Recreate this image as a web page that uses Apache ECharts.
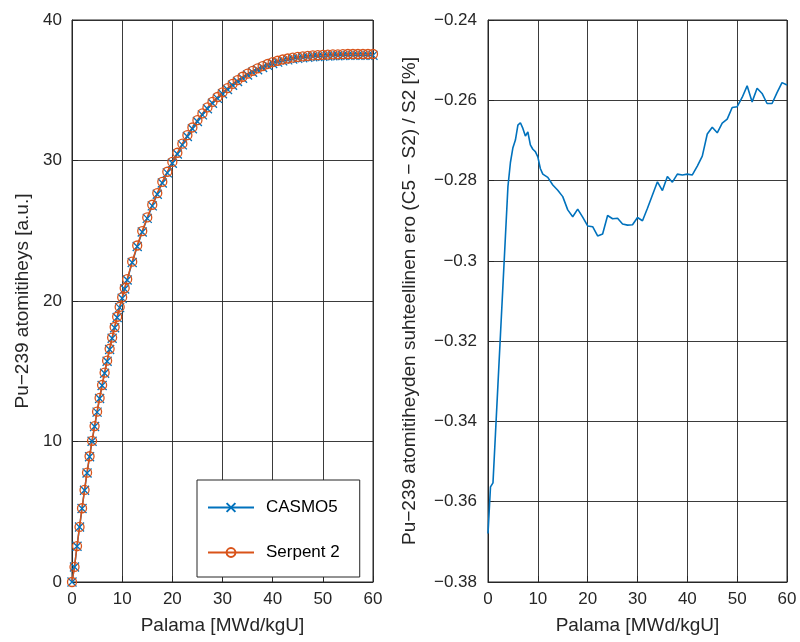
<!DOCTYPE html>
<html>
<head>
<meta charset="utf-8">
<script src="https://cdn.jsdelivr.net/npm/echarts@6/dist/echarts.min.js"></script>
<style>
html,body{margin:0;padding:0;background:#fff;}
#chart{width:800px;height:642px;}
</style>
</head>
<body>
<div id="chart"></div>
<script>
// Burnup points [MWd/kgU]
var burnup = [0,0.5,1,1.5,2,2.5,3,3.5,4,4.5,5,5.5,6,6.5,7,7.5,8,8.5,9,9.5,10,10.5,
  11,12,13,14,15,16,17,18,19,20,
  21,22,23,24,25,26,27,28,29,30,
  31,32,33,34,35,36,37,38,39,40,
  41,42,43,44,45,46,47,48,49,50,
  51,52,53,54,55,56,57,58,59,60];

// Serpent 2 Pu-239 atom density [a.u.]
var serpent = [0,1.07,2.56,3.92,5.25,6.55,7.78,8.95,10.05,11.1,12.12,13.1,14.02,14.9,15.75,16.6,17.4,18.15,18.88,19.58,20.26,20.92,
  21.55,22.8,23.95,24.98,25.95,26.85,27.68,28.48,29.2,29.9,
  30.55,31.2,31.8,32.35,32.87,33.35,33.78,34.17,34.52,34.85,
  35.15,35.45,35.72,35.96,36.18,36.38,36.56,36.72,36.87,37.0,
  37.1,37.19,37.26,37.32,37.37,37.41,37.45,37.48,37.5,37.52,
  37.54,37.55,37.56,37.57,37.58,37.58,37.58,37.58,37.58,37.58];

// CASMO5 Pu-239 atom density [a.u.]
var casmo = [0,1.07,2.55,3.91,5.23,6.53,7.76,8.92,10.02,11.07,12.09,13.06,13.98,14.86,15.71,16.55,17.35,18.10,18.83,19.53,20.20,20.86,
  21.49,22.74,23.88,24.91,25.88,26.77,27.60,28.40,29.12,29.81,
  30.46,31.11,31.71,32.26,32.77,33.25,33.68,34.07,34.42,34.75,
  35.05,35.35,35.62,35.86,36.08,36.28,36.46,36.62,36.77,36.90,
  37.00,37.09,37.16,37.22,37.27,37.31,37.35,37.38,37.40,37.42,
  37.44,37.45,37.46,37.47,37.48,37.48,37.48,37.48,37.48,37.48];

// Relative difference (C5 - S2)/S2 [%]
var relDiff = [-0.3679,-0.3563,-0.3553,-0.3430,-0.3307,-0.3184,-0.3061,-0.2938,-0.2815,-0.2755,-0.2718,-0.2699,-0.2662,-0.2656,-0.2670,-0.2689,-0.2679,-0.2711,-0.2722,-0.2728,-0.2741,-0.2770,
  -0.2784,-0.2792,-0.2811,-0.2824,-0.2840,-0.2873,-0.2890,-0.2871,-0.2891,-0.2913,
  -0.2915,-0.2938,-0.2933,-0.2887,-0.2895,-0.2894,-0.2908,-0.2911,-0.2910,-0.2892,
  -0.2900,-0.2869,-0.2836,-0.2803,-0.2825,-0.2790,-0.2804,-0.2784,-0.2786,-0.2784,
  -0.2786,-0.2764,-0.2739,-0.2684,-0.2667,-0.2681,-0.2657,-0.2647,-0.2618,-0.2616,
  -0.2593,-0.2564,-0.2604,-0.2570,-0.2583,-0.2608,-0.2608,-0.2581,-0.2556,-0.2562];

var seriesNames = ['CASMO5', 'Serpent 2'];
var xName = 'Palama [MWd/kgU]';
var yNameLeft = 'Pu\u2212239 atomitiheys [a.u.]';
var yNameRight = 'Pu\u2212239 atomitiheyden suhteellinen ero (C5 \u2212 S2) / S2 [%]';

function pairs(xs, ys) { return xs.map(function (x, i) { return [x, ys[i]]; }); }

var ink = '#262626';
var blue = '#0072BD';
var orange = '#D95319';

function xAxisCfg(gi) {
  return {
    gridIndex: gi, type: 'value', min: 0, max: 60, interval: 10,
    name: xName, nameLocation: 'middle', nameGap: 34,
    nameTextStyle: { fontSize: 19, color: ink },
    axisLine: { show: true, onZero: false, lineStyle: { color: ink, width: 1 } },
    axisTick: { show: true, inside: true, length: 6, lineStyle: { color: ink } },
    axisLabel: { fontSize: 17, color: ink, margin: 9 },
    splitLine: { show: true, lineStyle: { color: ink, width: 1, opacity: 0.9 } }
  };
}

function fmtNum(v) {
  var s = String(Number(v.toFixed(4)));
  return s.replace('-', '\u2212');
}

var chart = echarts.init(document.getElementById('chart'), null, { renderer: 'canvas' });
chart.setOption({
  animation: false,
  backgroundColor: '#fff',
  textStyle: { fontFamily: 'Liberation Sans, Arial, sans-serif' },
  grid: [
    { left: 72, right: 427, top: 20, bottom: 60, show: true, borderColor: ink, borderWidth: 1, backgroundColor: '#fff' },
    { left: 488, right: 13, top: 20, bottom: 60, show: true, borderColor: ink, borderWidth: 1, backgroundColor: '#fff' }
  ],
  xAxis: [xAxisCfg(0), xAxisCfg(1)],
  yAxis: [
    {
      gridIndex: 0, type: 'value', min: 0, max: 40, interval: 10,
      name: yNameLeft, nameLocation: 'middle', nameGap: 40,
      nameTextStyle: { fontSize: 19, color: ink },
      axisLine: { show: true, lineStyle: { color: ink, width: 1 } },
      axisTick: { show: true, inside: true, length: 6, lineStyle: { color: ink } },
      axisLabel: { fontSize: 17, color: ink, margin: 10, formatter: fmtNum },
      splitLine: { show: true, lineStyle: { color: ink, width: 1, opacity: 0.9 } }
    },
    {
      gridIndex: 1, type: 'value', min: -0.38, max: -0.24, interval: 0.02,
      name: yNameRight, nameLocation: 'middle', nameGap: 69,
      nameTextStyle: { fontSize: 19, color: ink },
      axisLine: { show: true, lineStyle: { color: ink, width: 1 } },
      axisTick: { show: true, inside: true, length: 6, lineStyle: { color: ink } },
      axisLabel: { fontSize: 17, color: ink, margin: 11, formatter: fmtNum },
      splitLine: { show: true, lineStyle: { color: ink, width: 1, opacity: 0.9 } }
    }
  ],
  legend: {
    data: seriesNames,
    orient: 'vertical', left: 197, top: 480,
    itemWidth: 46, itemHeight: 11, itemGap: 28,
    padding: [19, 20, 16, 10],
    backgroundColor: '#fff', borderColor: ink, borderWidth: 1, borderRadius: 0,
    textStyle: { fontSize: 17, color: '#000', padding: [0, 0, 0, 7] }
  },
  series: [
    {
      name: seriesNames[0], type: 'line', xAxisIndex: 0, yAxisIndex: 0,
      data: pairs(burnup, casmo),
      symbol: 'path://M0,0L10,10M0,10L10,0', symbolSize: 9,
      showAllSymbol: true,
      itemStyle: { color: blue, borderColor: blue, borderWidth: 1.3 },
      lineStyle: { color: blue, width: 1.5 }
    },
    {
      name: seriesNames[1], type: 'line', xAxisIndex: 0, yAxisIndex: 0,
      data: pairs(burnup, serpent),
      symbol: 'circle', symbolSize: 9,
      showAllSymbol: true,
      itemStyle: { color: 'rgba(255,255,255,0)', borderColor: orange, borderWidth: 1.3 },
      lineStyle: { color: orange, width: 1.5 }
    },
    {
      name: 'ero', type: 'line', xAxisIndex: 1, yAxisIndex: 1,
      data: pairs(burnup, relDiff),
      symbol: 'none',
      lineStyle: { color: blue, width: 1.6 }
    }
  ]
});
</script>
</body>
</html>
